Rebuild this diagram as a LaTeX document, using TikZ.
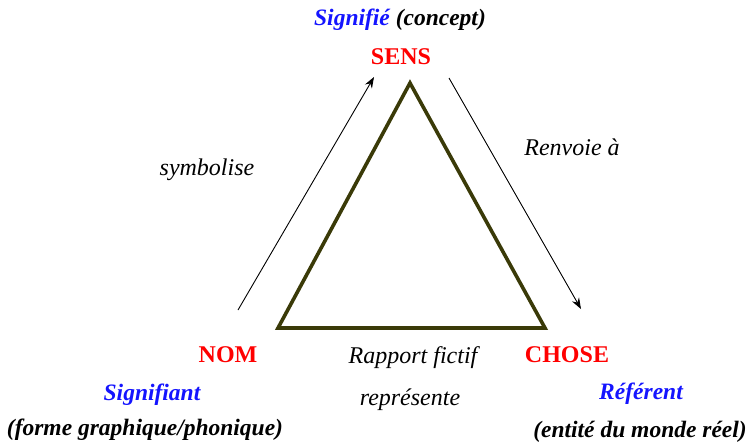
\documentclass[tikz,border=0pt]{standalone}
\usepackage{fontspec}
\setmainfont{Liberation Serif}
\usetikzlibrary{arrows.meta}
\definecolor{triol}{RGB}{58,58,8}
\definecolor{redlab}{RGB}{255,0,0}
\definecolor{bluelab}{RGB}{20,20,255}
\tikzset{
  lab/.style={inner sep=0pt, anchor=base, font=\fontsize{24}{28}\selectfont},
  term/.style={lab, text=redlab, font=\fontsize{24}{28}\selectfont\bfseries},
  rel/.style={lab, font=\fontsize{24}{28}\selectfont\itshape},
  desc/.style={lab, font=\fontsize{23.5}{28}\selectfont\bfseries\itshape},
  arr/.style={line width=0.9pt, -{Stealth[length=11pt,width=8pt]}},
  tri/.style={line width=3.6pt, draw=triol, line join=miter}
}
\begin{document}
\begin{tikzpicture}[x=1pt,y=-1pt]
\useasboundingbox (0,0) rectangle (749,445);
% triangle
\coordinate (apex) at (410,83);
\coordinate (bl) at (278,328);
\coordinate (br) at (545,328);
\draw[tri] (apex) -- (bl) -- (br) -- cycle;
% arrows
\coordinate (s1) at (238,310);
\coordinate (e1) at (374,77);
\draw[arr] (s1) -- (e1);
\coordinate (s2) at (449,78);
\coordinate (e2) at (581,309);
\draw[arr] (s2) -- (e2);
% labels
\node[desc] (signifie) at (400,25) {\textcolor{bluelab}{Signifié} (concept)};
\node[term] (sens) at (401,64) {SENS};
\node[rel] (symb) at (207,175) {symbolise};
\node[rel] (renv) at (572,155) {Renvoie à};
\node[term] (nom) at (228,362) {NOM};
\node[rel] (rapp) at (413,363) {Rapport fictif};
\node[term] (chose) at (567,362) {CHOSE};
\node[desc, text=bluelab] (signifiant) at (152,400) {Signifiant};
\node[rel] (repr) at (410,405) {représente};
\node[desc, text=bluelab] (referent) at (641,399) {Référent};
\node[desc] (forme) at (145,435) {(forme graphique/phonique)};
\node[desc] (entite) at (640,437) {(entité du monde réel)};
\end{tikzpicture}
\end{document}
